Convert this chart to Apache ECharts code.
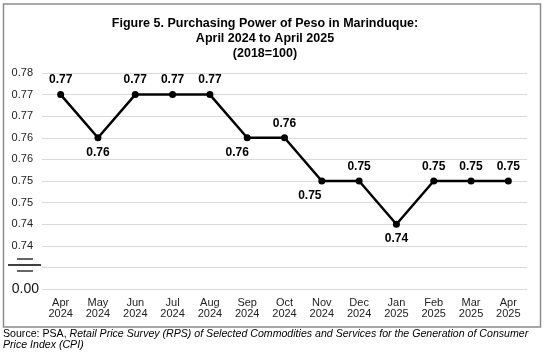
<!DOCTYPE html>
<html>
<head>
<meta charset="utf-8">
<script src="https://cdn.jsdelivr.net/npm/echarts@6/dist/echarts.min.js"></script>
<style>
  html, body { margin: 0; padding: 0; background: #fff; }
  #chart { width: 547px; height: 352px; }
</style>
</head>
<body>
<div id="chart"></div>
<script>
// categories and values
const months = ['Apr\n2024', 'May\n2024', 'Jun\n2024', 'Jul\n2024', 'Aug\n2024', 'Sep\n2024', 'Oct\n2024',
  'Nov\n2024', 'Dec\n2024', 'Jan\n2025', 'Feb\n2025', 'Mar\n2025', 'Apr\n2025']
const ppp = [0.775, 0.765, 0.775, 0.775, 0.775, 0.765, 0.765, 0.755, 0.755, 0.745, 0.755, 0.755, 0.755]
// where each data label sits
const labelSide = ['top', 'bottom', 'top', 'top', 'top', 'bottom', 'top', 'bottom', 'top', 'bottom', 'top', 'top', 'top']
const labelShift = [0, 0, 0, 0, 0, -10, 0, -12, 0, 0, 0, 0, 0]

const FONT = '"Liberation Sans", Arial, sans-serif'

// shown with two decimals, cut off rather than rounded, like the original
function fmt2(v) {
  return (Math.floor(v * 100 + 1e-6) / 100).toFixed(2)
}

const chart = echarts.init(document.getElementById('chart'))

const option = {
  animation: false,
  textStyle: { fontFamily: FONT },
  title: {
    text: 'Figure 5. Purchasing Power of Peso in Marinduque:\nApril 2024 to April 2025\n(2018=100)',
    left: 260,
    textAlign: 'center',
    top: 11,
    textStyle: { fontFamily: FONT, fontSize: 12.5, fontWeight: 'bold', color: '#000', lineHeight: 15 }
  },
  grid: { left: 42, right: 20, top: 73, bottom: 63 },
  xAxis: {
    type: 'category',
    data: months,
    boundaryGap: true,
    axisLine: { show: false },
    axisTick: { show: false },
    axisLabel: { color: '#222', fontSize: 11, lineHeight: 11, margin: 8, interval: 0, fontFamily: FONT }
  },
  yAxis: {
    type: 'value',
    min: 0.73,
    max: 0.78,
    interval: 0.005,
    axisLine: { show: false },
    axisTick: { show: false },
    splitLine: { lineStyle: { color: '#d9d9d9', width: 1 } },
    axisLabel: {
      color: '#222',
      fontSize: 11,
      margin: 9,
      fontFamily: FONT,
      formatter: (v) => {
        if (Math.abs(v - 0.73) < 1e-6) return '{z|0.00}'
        if (Math.abs(v - 0.735) < 1e-6) return ''
        return fmt2(v)
      },
      rich: { z: { fontSize: 14, color: '#111', fontFamily: FONT, padding: [0, -6, 0, 0] } }
    }
  },
  series: [
    {
      type: 'line',
      data: ppp.map((v, i) => ({
        value: v,
        label: { position: labelSide[i], offset: [labelShift[i], 0] }
      })),
      symbol: 'circle',
      symbolSize: 7,
      itemStyle: { color: '#000' },
      lineStyle: { color: '#000', width: 2.5 },
      label: {
        show: true,
        distance: 5,
        fontSize: 12,
        fontWeight: 'bold',
        color: '#000',
        fontFamily: FONT,
        formatter: (p) => fmt2(p.value)
      }
    }
  ],
  graphic: [
    // outer frame
    { type: 'rect', shape: { x: 3.5, y: 4, width: 537, height: 323 }, style: { fill: 'none', stroke: '#8c8c8c', lineWidth: 1.5 } },
    // axis break marks
    { type: 'line', shape: { x1: 17, y1: 259, x2: 33, y2: 259 }, style: { stroke: '#000', lineWidth: 1.2 } },
    { type: 'line', shape: { x1: 8, y1: 265, x2: 41, y2: 265 }, style: { stroke: '#000', lineWidth: 1.5 } },
    { type: 'line', shape: { x1: 17, y1: 271, x2: 33, y2: 271 }, style: { stroke: '#000', lineWidth: 1.2 } },
    // source note
    {
      type: 'text',
      left: 3,
      top: 329,
      style: {
        text: '{n|Source: PSA, }{i|Retail Price Survey (RPS) of Selected Commodities and Services for the Generation of Consumer}\n{i|Price Index (CPI)}',
        fontFamily: FONT,
        fontSize: 10.6,
        lineHeight: 11,
        fill: '#000',
        rich: {
          n: { fontFamily: FONT, fontSize: 10.6, fill: '#000', lineHeight: 11 },
          i: { fontFamily: FONT, fontSize: 10.6, fontStyle: 'italic', fill: '#000', lineHeight: 11 }
        }
      }
    }
  ]
}

chart.setOption(option)
</script>
</body>
</html>
